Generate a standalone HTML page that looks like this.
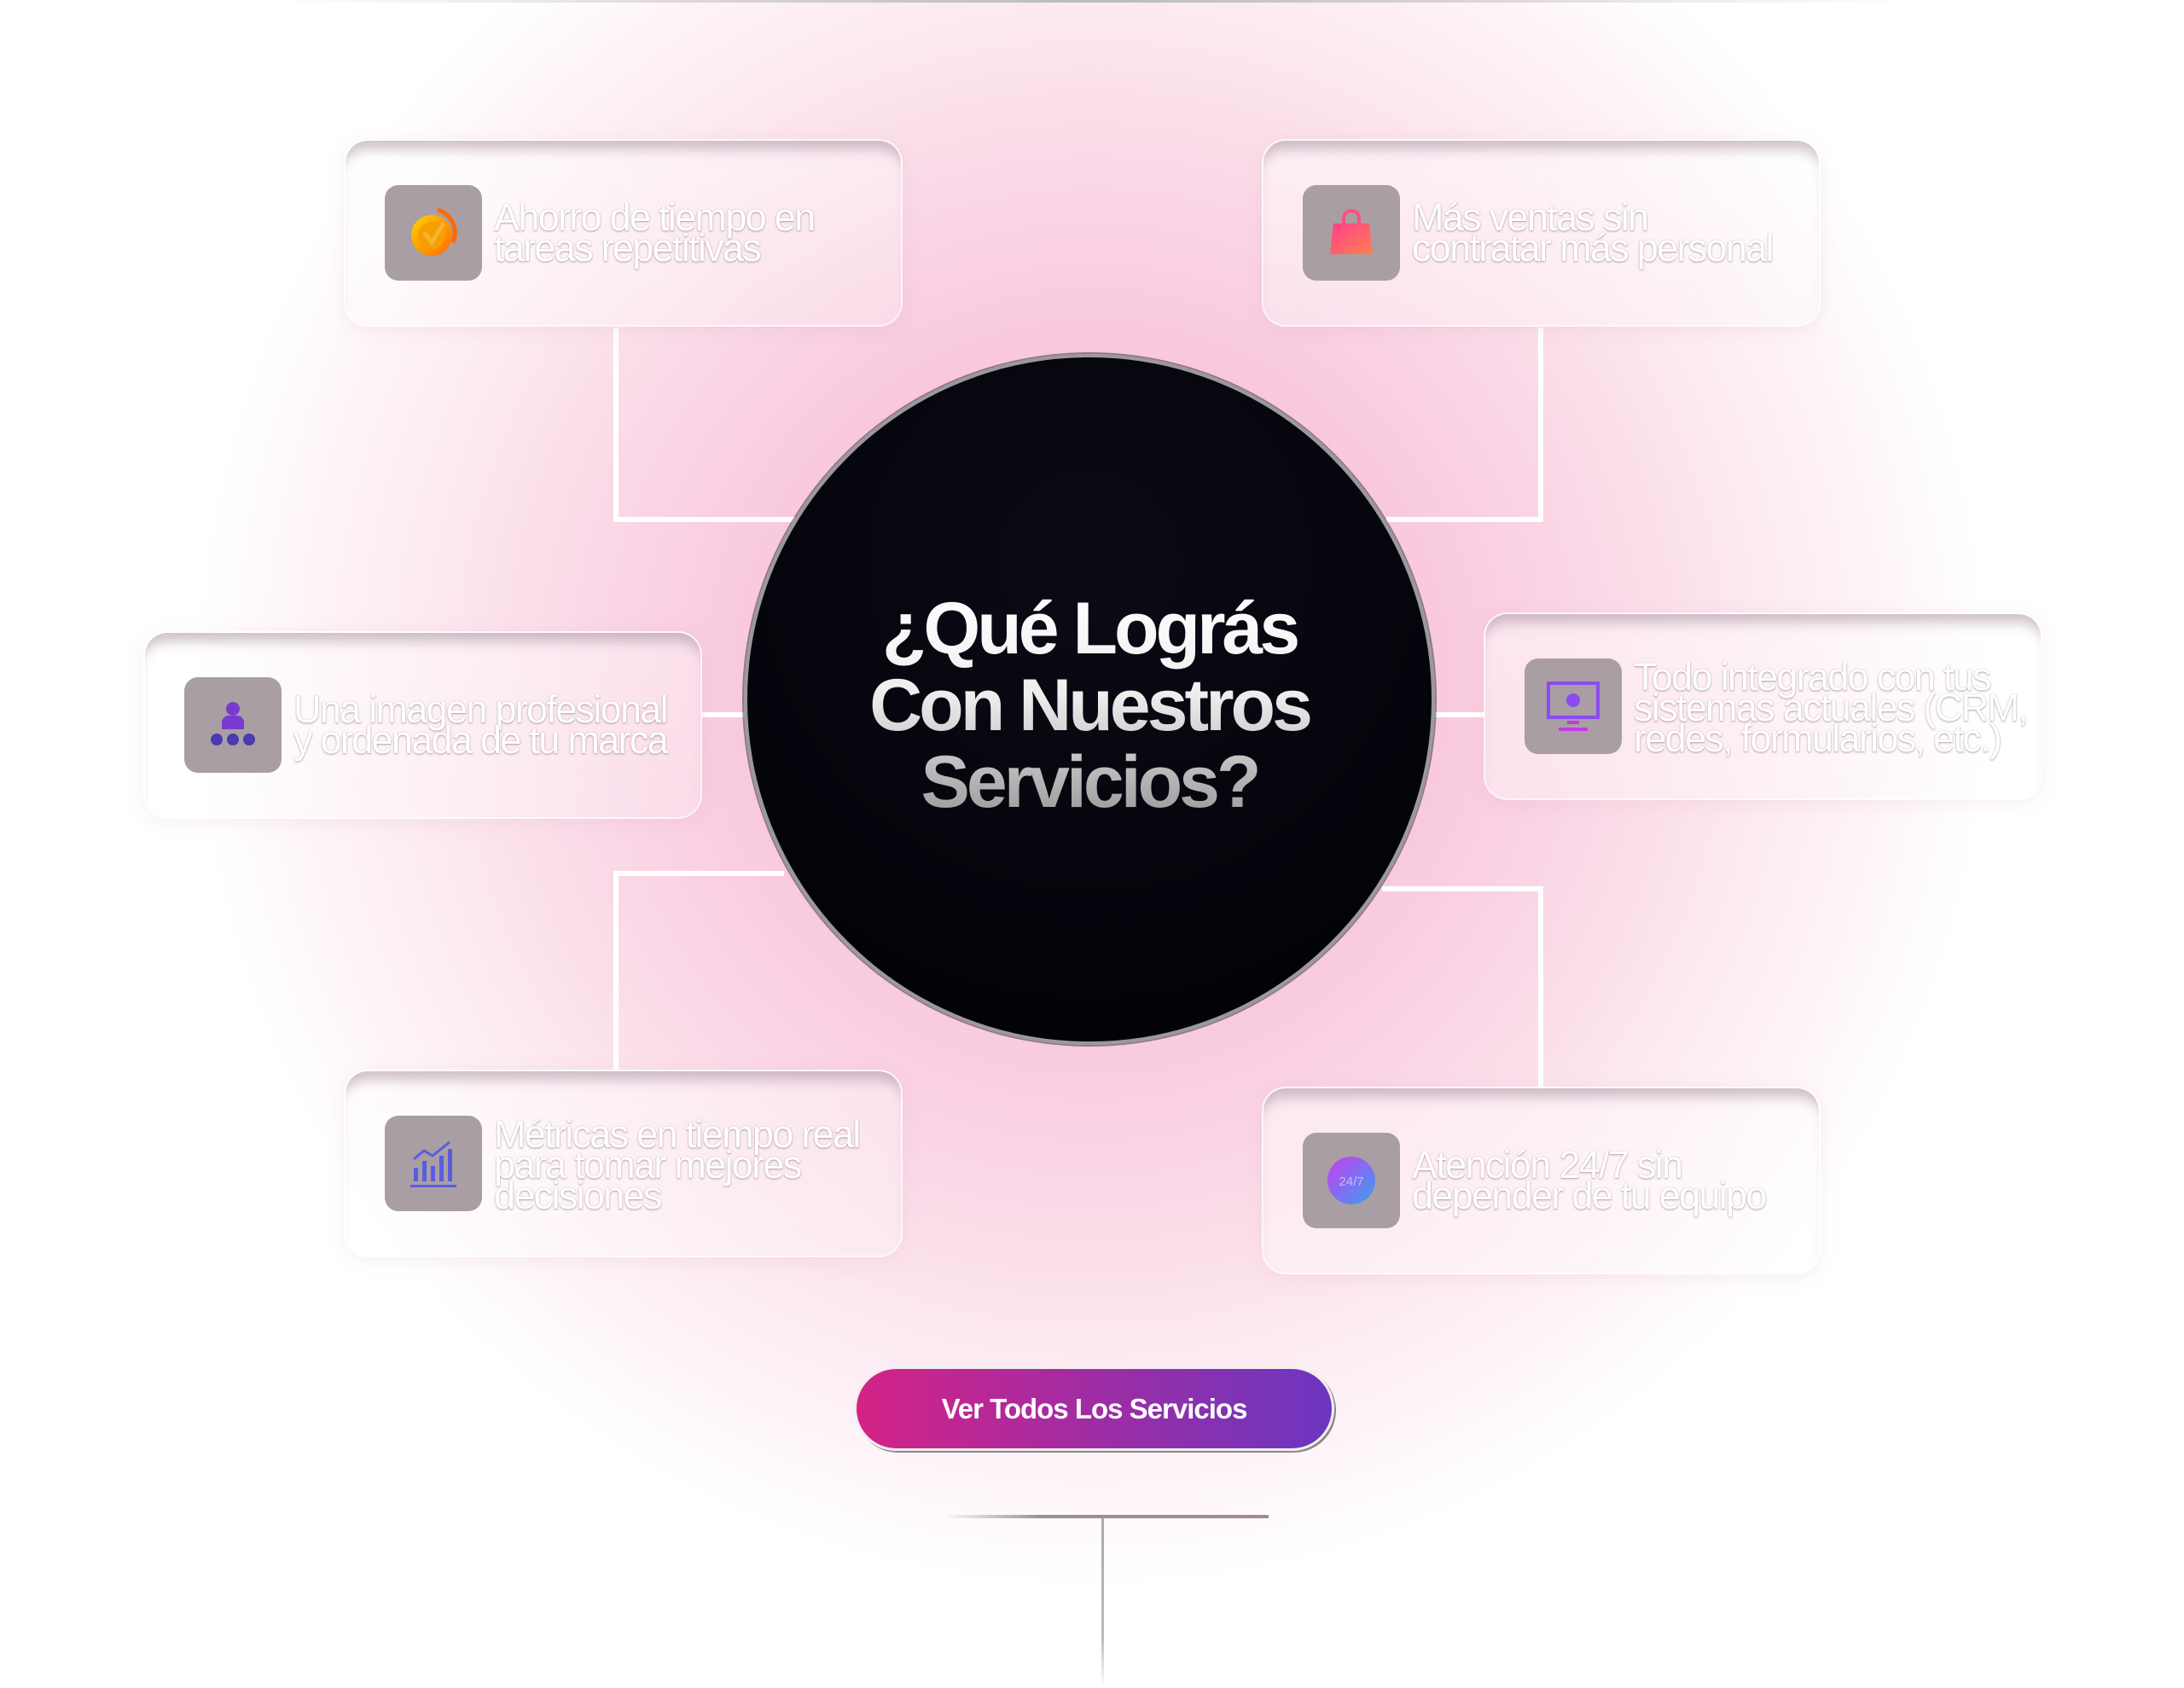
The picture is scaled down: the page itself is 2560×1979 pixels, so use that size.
<!DOCTYPE html>
<html><head><meta charset="utf-8"><style>
html,body{margin:0;padding:0}
body{width:2560px;height:1979px;position:relative;overflow:hidden;background:#fff;font-family:"Liberation Sans",sans-serif}
.bg{position:absolute;left:0;top:0;width:2560px;height:1979px;
background:radial-gradient(ellipse 1050px 1060px at 1280px 800px,#f7b9d4 0%,#f8c1d9 28%,#fad4e4 52%,#fce9f1 75%,rgba(255,255,255,0) 100%)}
.ln{position:absolute;background:#fff}
.card{position:absolute;width:655px;height:220px;border-radius:28px;
background:linear-gradient(160deg,rgba(255,255,255,.5),rgba(255,255,255,.28));
border:2px solid rgba(255,255,255,.6);box-shadow:inset 0 18px 14px -8px rgba(160,135,150,.5),0 4px 20px rgba(200,150,170,.15);box-sizing:border-box}
.ic{position:absolute;left:46px;top:52px;width:114px;height:112px;border-radius:16px;background:#a99ea3;display:flex;align-items:center;justify-content:center}
.tx{position:absolute;left:174px;top:72px;color:#fff;font-size:45px;line-height:36px;letter-spacing:-1.7px;text-shadow:0 1px 2px rgba(110,90,100,.5),0 0 1px rgba(110,90,100,.4);white-space:nowrap}
.circle{position:absolute;left:872px;top:415px;width:810px;height:810px;border-radius:50%;
background:radial-gradient(circle at 50% 30%,#0b0b16,#020208 80%);border:4px solid #9a9a9e;box-sizing:border-box;box-shadow:0 0 0 2px rgba(0,0,0,.4)}
.title{position:absolute;left:872px;width:810px;top:692px;text-align:center;font-size:86px;line-height:90px;letter-spacing:-4px;font-weight:bold;
background:linear-gradient(180deg,#fff 0%,#eee 45%,#999 100%);-webkit-background-clip:text;background-clip:text;color:transparent}
.btn{position:absolute;left:1001px;top:1602px;width:563px;height:99px;border-radius:50px;background:linear-gradient(90deg,#d42387,#6b36c0);
border:3px solid #f2eef0;box-sizing:border-box;color:#fff;font-weight:bold;font-size:33px;letter-spacing:-1px;display:flex;align-items:center;justify-content:center;box-shadow:2px 2px 0 #888}
</style></head><body>
<div class="bg"></div>
<div style="position:absolute;left:320px;top:0;width:1920px;height:3px;background:linear-gradient(90deg,rgba(180,180,180,0),#bbb 50%,rgba(180,180,180,0))"></div>

<div class="ln" style="left:719px;top:384px;width:6px;height:228px"></div>
<div class="ln" style="left:719px;top:606px;width:220px;height:6px"></div>
<div class="ln" style="left:1803px;top:384px;width:6px;height:228px"></div>
<div class="ln" style="left:1625px;top:606px;width:184px;height:6px"></div>
<div class="ln" style="left:823px;top:835px;width:55px;height:6px"></div>
<div class="ln" style="left:1680px;top:835px;width:60px;height:6px"></div>
<div class="ln" style="left:719px;top:1021px;width:200px;height:6px"></div>
<div class="ln" style="left:719px;top:1021px;width:6px;height:235px"></div>
<div class="ln" style="left:1620px;top:1039px;width:189px;height:6px"></div>
<div class="ln" style="left:1803px;top:1039px;width:6px;height:237px"></div>

<div class="circle"></div>
<div class="title">¿Qué Lográs<br>Con Nuestros<br>Servicios?</div>

<div class="card" style="left:403px;top:163px"><div class="ic">
<svg width="70" height="70" viewBox="0 0 70 70"><defs><linearGradient id="g1" x1="0" y1="0" x2="1" y2="1"><stop offset="0" stop-color="#ffd200"/><stop offset="1" stop-color="#ff6a00"/></linearGradient></defs><circle cx="33" cy="38" r="24" fill="url(#g1)"/><circle cx="33" cy="38" r="16" fill="#f5a000"/><path d="M24 34l9 12 14-22" stroke="#fff3" stroke-width="5" fill="none"/><path d="M40 8a28 28 0 0 1 18 38" stroke="#ff6a00" stroke-width="5" fill="none"/></svg></div>
<div class="tx">Ahorro de tiempo en<br>tareas repetitivas</div></div>

<div class="card" style="left:1479px;top:163px"><div class="ic">
<svg width="70" height="70" viewBox="0 0 70 70"><defs><linearGradient id="g2" x1="0" y1="0" x2="1" y2="1"><stop offset="0" stop-color="#ff3f8a"/><stop offset="1" stop-color="#ff8050"/></linearGradient></defs><path d="M26 24v-6a9 9 0 0 1 18 0v6" stroke="#ff4f80" stroke-width="4" fill="none"/><path d="M14 24h42l4 36H10z" fill="url(#g2)"/></svg></div>
<div class="tx">Más ventas sin<br>contratar más personal</div></div>

<div class="card" style="left:168px;top:740px"><div class="ic">
<svg width="70" height="70" viewBox="0 0 70 70"><circle cx="35" cy="16" r="8" fill="#7a3ad0"/><path d="M22 40v-8a8 8 0 0 1 8-8h10a8 8 0 0 1 8 8v8z" fill="#7a3ad0"/><circle cx="16" cy="52" r="7" fill="#4a3ab0"/><circle cx="35" cy="52" r="7" fill="#4a3ab0"/><circle cx="54" cy="52" r="7" fill="#4a3ab0"/></svg></div>
<div class="tx">Una imagen profesional<br>y ordenada de tu marca</div></div>

<div class="card" style="left:1739px;top:718px"><div class="ic">
<svg width="70" height="70" viewBox="0 0 70 70"><rect x="6" y="8" width="58" height="40" fill="none" stroke="#8a4cf0" stroke-width="4"/><circle cx="35" cy="28" r="8" fill="#8a4cf0"/><rect x="28" y="52" width="14" height="4" fill="#c63ae6"/><rect x="18" y="60" width="34" height="4" fill="#c63ae6"/></svg></div>
<div class="tx" style="top:56px">Todo integrado con tus<br>sistemas actuales (CRM,<br>redes, formularios, etc.)</div></div>

<div class="card" style="left:403px;top:1254px"><div class="ic">
<svg width="70" height="70" viewBox="0 0 70 70"><g fill="#5a5ce0"><rect x="12" y="40" width="5" height="16"/><rect x="22" y="32" width="5" height="24"/><rect x="32" y="38" width="5" height="18"/><rect x="42" y="26" width="5" height="30"/><rect x="52" y="18" width="5" height="38"/><rect x="8" y="60" width="54" height="3"/></g><path d="M12 30l12-10 10 6 20-16" stroke="#5a5ce0" stroke-width="3" fill="none"/></svg></div>
<div class="tx" style="top:56px">Métricas en tiempo real<br>para tomar mejores<br>decisiones</div></div>

<div class="card" style="left:1479px;top:1274px"><div class="ic">
<svg width="70" height="70" viewBox="0 0 70 70"><defs><linearGradient id="g6" x1="0" y1="0" x2="1" y2="1"><stop offset="0" stop-color="#c83cf0"/><stop offset="1" stop-color="#3aa0f0"/></linearGradient></defs><circle cx="35" cy="35" r="28" fill="url(#g6)"/><text x="35" y="41" text-anchor="middle" font-size="15" fill="#fff8" font-family="Liberation Sans">24/7</text></svg></div>
<div class="tx">Atención 24/7 sin<br>depender de tu equipo</div></div>

<div class="btn">Ver Todos Los Servicios</div>

<div style="position:absolute;left:1107px;top:1776px;width:380px;height:4px;background:linear-gradient(90deg,rgba(150,140,150,0),#9a8f98 30%,#a08a96)"></div>
<div style="position:absolute;left:1291px;top:1780px;width:3px;height:199px;background:linear-gradient(180deg,#aaa,#bbb 70%,rgba(200,200,200,0))"></div>
</body></html>
